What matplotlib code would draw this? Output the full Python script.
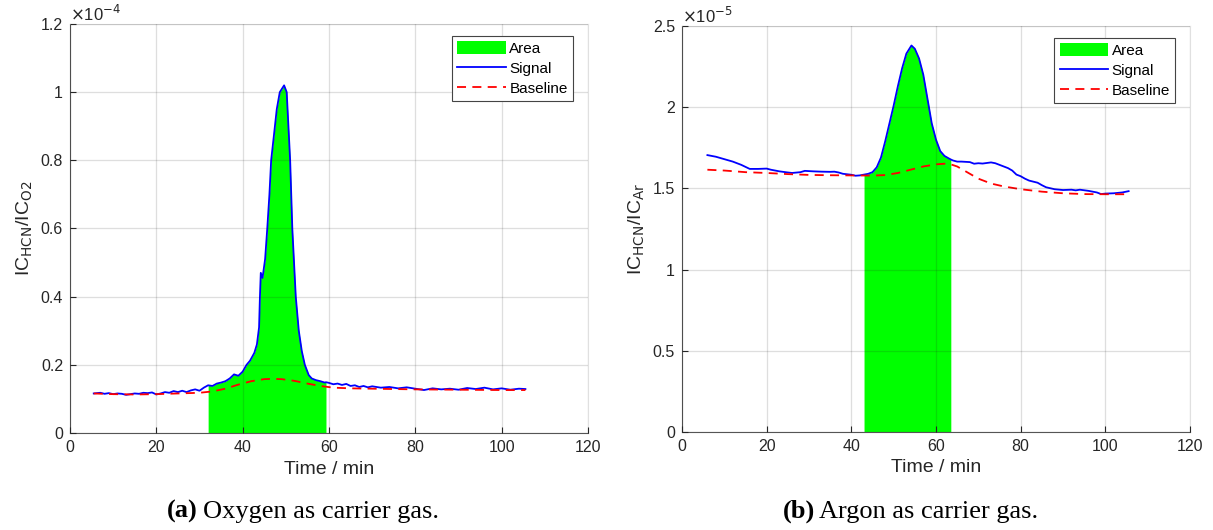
import matplotlib.pyplot as plt
from matplotlib.ticker import FuncFormatter
import numpy as np

plt.rcParams["font.family"] = ["Liberation Sans", "DejaVu Sans"]

# (a) oxygen carrier gas, values in 1e-4
t_o2 = [5.5, 7, 8, 9, 10, 11, 12, 13, 14, 15, 16, 17, 18, 19, 20, 21, 22, 23, 24, 25,
        26, 27, 28, 29, 30, 31, 32, 33, 34, 35, 36, 37, 38, 39, 40, 40.9, 41.7, 42.7,
        43.3, 43.8, 44.0, 44.2, 44.6, 45.2, 45.7, 46.2, 46.6, 47.3, 47.9, 48.6, 49.6,
        50.2, 50.6, 51.0, 51.5, 52.3, 53.0, 53.7, 54.4, 55.3, 56, 57, 58, 59, 59.3, 60,
        61, 62, 63, 64, 65, 66, 67, 68, 69, 70, 72, 74, 76, 78, 80, 82, 84, 86, 88, 90,
        92, 94, 96, 98, 100, 102, 104, 105.5]
sig_o2 = [0.116, 0.118, 0.115, 0.117, 0.114, 0.116, 0.115, 0.112, 0.114, 0.116, 0.115,
          0.118, 0.117, 0.119, 0.113, 0.116, 0.120, 0.118, 0.123, 0.120, 0.124, 0.120,
          0.125, 0.128, 0.124, 0.133, 0.140, 0.138, 0.145, 0.148, 0.152, 0.160, 0.172,
          0.168, 0.180, 0.200, 0.212, 0.235, 0.260, 0.310, 0.400, 0.470, 0.455, 0.510,
          0.600, 0.700, 0.800, 0.880, 0.950, 1.000, 1.020, 1.000, 0.900, 0.800, 0.600,
          0.400, 0.300, 0.240, 0.200, 0.170, 0.160, 0.155, 0.152, 0.148, 0.149, 0.147,
          0.143, 0.145, 0.141, 0.144, 0.138, 0.140, 0.135, 0.138, 0.134, 0.137, 0.133,
          0.135, 0.131, 0.134, 0.130, 0.126, 0.131, 0.128, 0.130, 0.127, 0.132, 0.129,
          0.133, 0.128, 0.131, 0.127, 0.130, 0.129]
tb_o2 = [5.5, 10, 15, 20, 25, 30, 33, 36, 39, 42, 45, 47, 49, 52, 55, 58, 61, 65, 70, 80,
         90, 100, 105.5]
base_o2 = [0.116, 0.114, 0.113, 0.114, 0.116, 0.118, 0.122, 0.130, 0.142, 0.152, 0.158,
           0.159, 0.158, 0.153, 0.145, 0.138, 0.133, 0.131, 0.130, 0.128, 0.127, 0.126,
           0.126]
area_o2 = (32, 59.3)

# (b) argon carrier gas, values in 1e-5
t_ar = [6, 8, 10, 12, 13, 14, 16, 18, 20, 21, 23, 25, 26, 28, 29, 31, 33, 35, 36, 37,
        38, 40, 41, 42, 43, 44, 45, 46, 47, 48, 49, 50, 51, 52, 53, 54.2, 55, 56, 57,
        58, 59, 60, 61, 62, 63, 63.5, 64, 65, 66, 68, 69, 70, 71, 73, 74, 76, 77, 78,
        79, 80, 81, 82, 84, 85, 86, 88, 90, 92, 93, 94, 96, 98, 99, 100, 102, 104, 105.5]
sig_ar = [1.705, 1.695, 1.68, 1.665, 1.655, 1.645, 1.62, 1.62, 1.622, 1.615, 1.605,
          1.598, 1.595, 1.6, 1.608, 1.605, 1.603, 1.602, 1.603, 1.598, 1.59, 1.584, 1.578,
          1.58, 1.585, 1.59, 1.60, 1.63, 1.69, 1.79, 1.90, 2.01, 2.13, 2.24, 2.33, 2.38,
          2.36, 2.30, 2.20, 2.05, 1.90, 1.80, 1.73, 1.70, 1.685, 1.678, 1.672,
          1.665, 1.665, 1.662, 1.652, 1.655, 1.653, 1.66, 1.655, 1.635, 1.625, 1.61,
          1.585, 1.575, 1.56, 1.548, 1.535, 1.52, 1.507, 1.495, 1.49, 1.492, 1.488, 1.492,
          1.485, 1.475, 1.465, 1.468, 1.47, 1.475, 1.483]
tb_ar = [6, 10, 15, 20, 25, 30, 35, 40, 45, 48, 51, 54, 57, 60, 62, 63.5, 65, 67, 70,
         73, 76, 80, 85, 90, 95, 100, 105.5]
base_ar = [1.615, 1.61, 1.6, 1.595, 1.588, 1.583, 1.581, 1.58, 1.579, 1.582, 1.595,
           1.615, 1.635, 1.648, 1.652, 1.648, 1.635, 1.605, 1.56, 1.53, 1.512, 1.495,
           1.48, 1.47, 1.465, 1.464, 1.464]
area_ar = (43, 63.5)

W, H = 1213, 530
fig = plt.figure(figsize=(W / 100, H / 100), dpi=100)
ax1 = fig.add_axes([70 / W, 1 - 433 / H, (588 - 70) / W, (433 - 24) / H])
ax2 = fig.add_axes([682 / W, 1 - 432 / H, (1190 - 682) / W, (432 - 26) / H])

DARK = "#262626"


def draw(ax, t, sig, tb, base, area, ylim, yticks, ylabel, exponent):
    t = np.array(t)
    sig = np.array(sig)
    mask = (t >= area[0]) & (t <= area[1])
    ax.fill_between(t, 0, sig, where=mask, color="#00ff00", linewidth=0, label="Area")
    ax.plot(t, sig, color="#0000ff", linewidth=1.3, label="Signal")
    ax.plot(tb, base, color="#ff0000", linestyle=(0, (5, 3.5)), linewidth=1.3,
            label="Baseline")
    ax.set_xlim(0, 120)
    ax.set_ylim(*ylim)
    ax.set_xticks([0, 20, 40, 60, 80, 100, 120])
    ax.set_yticks(yticks)
    ax.yaxis.set_major_formatter(FuncFormatter(lambda v, p: f"{v:g}"))
    # MATLAB-like translucent grid drawn on top of the data
    ax.grid(True, color=DARK, alpha=0.15, linewidth=0.9)
    ax.set_axisbelow(False)
    ax.tick_params(direction="in", length=4, labelsize=11.5, colors=DARK,
                   top=False, right=False, pad=5)
    for s in ["left", "bottom"]:
        ax.spines[s].set_color("#555555")
    for s in ["top", "right"]:
        ax.spines[s].set_color("#e0e0e0")
    ax.set_xlabel("Time / min", fontsize=14, color=DARK, labelpad=4)
    ax.set_ylabel(ylabel, fontsize=14, color=DARK, labelpad=4)
    ax.text(0.0, 1.0, r"$\times$10$^{%s}$" % exponent, transform=ax.transAxes,
            fontsize=12, color=DARK, ha="left", va="bottom")
    leg = ax.legend(loc="upper right", bbox_to_anchor=(0.971, 0.971), borderaxespad=0,
                    fontsize=11, fancybox=False, edgecolor="#444444", framealpha=1,
                    handlelength=3.2, handleheight=0.9, borderpad=0.35,
                    labelspacing=0.35, handletextpad=0.2)
    leg.get_frame().set_linewidth(0.8)


draw(ax1, t_o2, sig_o2, tb_o2, base_o2, area_o2, (0, 1.2),
     [0, 0.2, 0.4, 0.6, 0.8, 1.0, 1.2],
     r"IC$_{\mathrm{HCN}}$/IC$_{\mathrm{O2}}$", "-4")
draw(ax2, t_ar, sig_ar, tb_ar, base_ar, area_ar, (0, 2.5),
     [0, 0.5, 1.0, 1.5, 2.0, 2.5],
     r"IC$_{\mathrm{HCN}}$/IC$_{\mathrm{Ar}}$", "-5")

# sub-figure captions
cap_y = 1 - 518 / H
for xa, xb, letter, caption in [(167, 203, "(a)", "Oxygen as carrier gas."),
                                (783, 819, "(b)", "Argon as carrier gas.")]:
    fig.text(xa / W, cap_y, letter, fontsize=19, family="Liberation Serif",
             fontweight="bold", ha="left", va="baseline")
    fig.text(xb / W, cap_y, caption, fontsize=19, family="Liberation Serif",
             ha="left", va="baseline")

fig.savefig("out.png", dpi=100)
